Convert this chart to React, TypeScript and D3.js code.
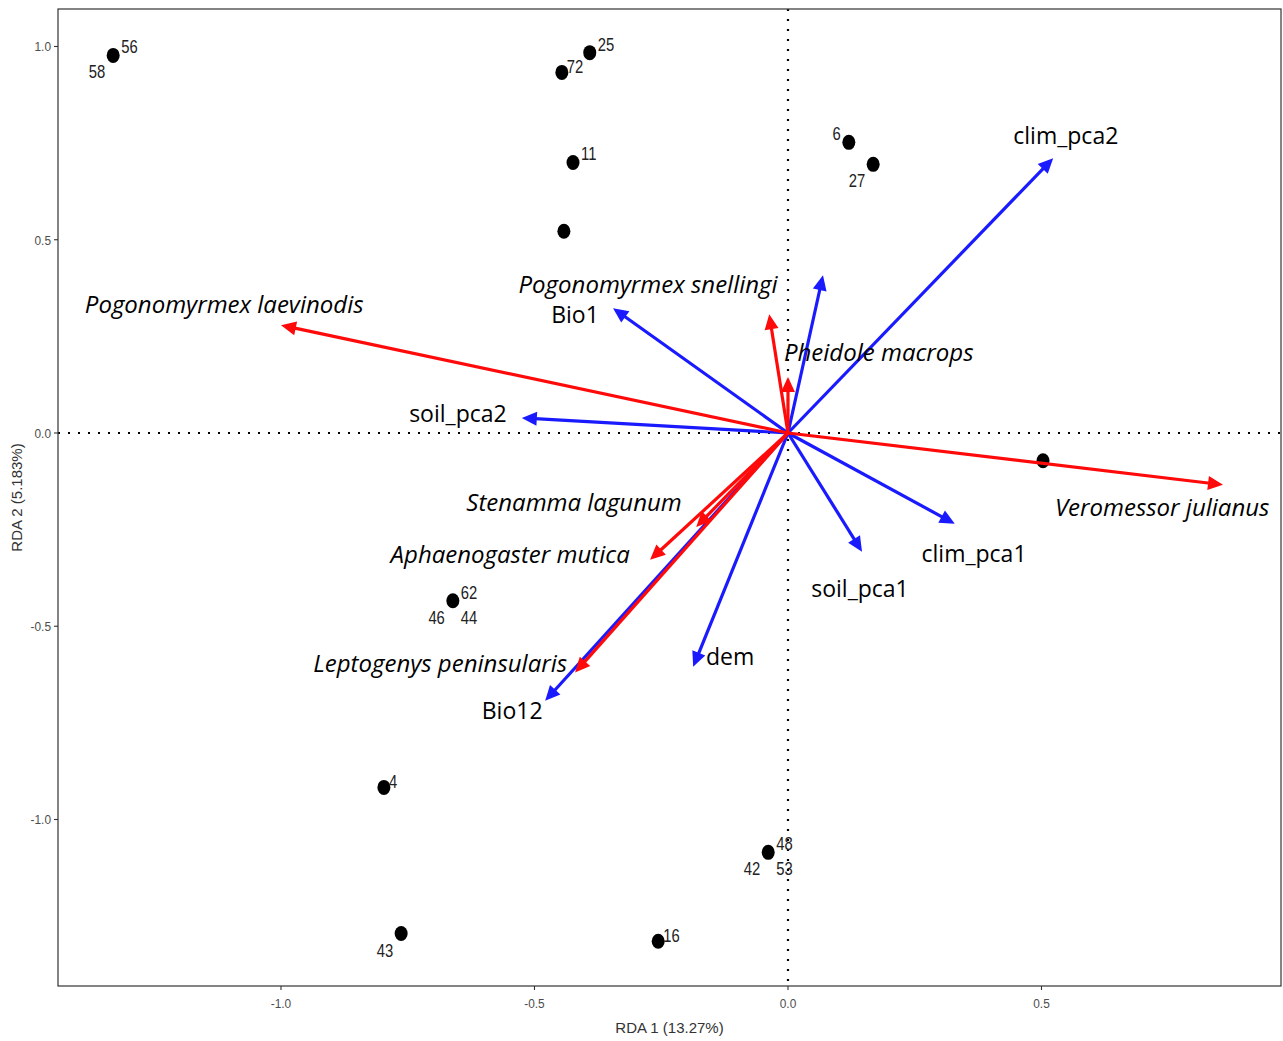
import React from "react";
import * as d3 from "d3";

// Site scores (RDA1, RDA2)
const siteX = [-1.331, -0.446, -0.391, -0.424, -0.442, 0.120, 0.168, 0.503, -0.661, -0.797, -0.039, -0.763, -0.256];
const siteY = [0.977, 0.933, 0.984, 0.700, 0.522, 0.752, 0.695, -0.072, -0.434, -0.917, -1.085, -1.295, -1.315];

// Site labels: [site index, text, placement]
const siteLabelIdx = [0, 0, 1, 2, 3, 5, 6, 8, 8, 8, 9, 10, 10, 10, 11, 12];
const siteLabelText = ["56", "58", "72", "25", "11", "6", "27", "62", "46", "44", "4", "48", "42", "53", "43", "16"];
const siteLabelPlace = ["ur", "ll", "r", "ur", "ur", "ul", "ll", "ur", "ll", "lr", "r", "ur", "ll", "lr", "ll", "r"];

// Environmental vectors (blue)
const envNames = ["clim_pca2", "Bio1", "soil_pca2", "clim_pca1", "soil_pca1", "dem", "Bio12", ""];
const envX = [0.523, -0.345, -0.525, 0.329, 0.146, -0.187, -0.479, 0.069];
const envY = [0.711, 0.323, 0.039, -0.235, -0.307, -0.605, -0.693, 0.408];
const envLabelX = [0.548, -0.420, -0.651, 0.367, 0.142, -0.114, -0.544, 0];
const envLabelY = [0.770, 0.307, 0.052, -0.310, -0.401, -0.576, -0.716, 0];

// Species vectors (red)
const sppNames = [
  "Pogonomyrmex laevinodis",
  "Veromessor julianus",
  "Pogonomyrmex snellingi",
  "Pheidole macrops",
  "Stenamma lagunum",
  "Aphaenogaster mutica",
  "Leptogenys peninsularis",
];
const sppX = [-1.0, 0.858, -0.037, 0.0, -0.181, -0.272, -0.420];
const sppY = [0.279, -0.134, 0.307, 0.145, -0.243, -0.328, -0.620];
const sppLabelX = [-1.112, 0.738, -0.276, 0.179, -0.422, -0.548, -0.686];
const sppLabelY = [0.336, -0.189, 0.388, 0.212, -0.176, -0.313, -0.594];

const xTicks = [-1.0, -0.5, 0.0, 0.5];
const yTicks = [-1.0, -0.5, 0.0, 0.5, 1.0];

const W = 1283;
const H = 1041;
const left = 58, right = 1281, top = 9, bottom = 986;

const x = d3.scaleLinear().domain([-1.4398, 0.9724]).range([left, right]);
const y = d3.scaleLinear().domain([-1.4308, 1.097]).range([bottom, top]);

const BLUE = "#1a1aff";
const RED = "#ff0a0a";
const ARIAL = "'Liberation Sans', Arial, sans-serif";

function Arrow({ x2, y2, color }: { x2: number; y2: number; color: string }) {
  const x0 = x(0), y0 = y(0);
  const px = x(x2), py = y(y2);
  const dx = px - x0, dy = py - y0;
  const len = Math.sqrt(dx * dx + dy * dy);
  const ux = dx / len, uy = dy / len;
  const hl = 15, hw = 7;
  const bx = px - ux * hl, by = py - uy * hl;
  const nx = -uy, ny = ux;
  const pts = [
    [px, py],
    [bx + nx * hw, by + ny * hw],
    [bx - nx * hw, by - ny * hw],
  ];
  return (
    <g>
      <line x1={x0} y1={y0} x2={bx + ux * 2} y2={by + uy * 2} stroke={color} strokeWidth={3.2} />
      <polygon points={pts.map((p) => p.join(",")).join(" ")} fill={color} />
    </g>
  );
}

function labelOffset(place: string) {
  const right = place.includes("r");
  const dx = right ? (place === "r" ? 5 : 8) : -8;
  let dy = 23;
  if (place.startsWith("u")) dy = -2;
  if (place === "r") dy = 1;
  return { dx, dy, anchor: right ? "start" : "end" };
}

const fmt = (t: number) => t.toFixed(1);

export default function App() {
  const labelFont = "'Open Sans', Lato, sans-serif";
  return (
    <div style={{ position: "absolute", left: 0, top: 0 }}>
      <svg width={W} height={H} style={{ display: "block", background: "#fff" }}>
        <rect x={0} y={0} width={W} height={H} fill="#fff" />
        {/* zero lines */}
        <line x1={x(0)} x2={x(0)} y1={top} y2={bottom} stroke="#000" strokeWidth={2.2} strokeDasharray="2 8" />
        <line x1={left} x2={right} y1={y(0)} y2={y(0)} stroke="#000" strokeWidth={2.2} strokeDasharray="2 8" />

        {/* points */}
        {siteX.map((sx, i) => (
          <ellipse key={"p" + i} cx={x(sx)} cy={y(siteY[i])} rx={6.5} ry={7.5} fill="#000" />
        ))}
        {siteLabelIdx.map((si, i) => {
          const o = labelOffset(siteLabelPlace[i]);
          const tx = x(siteX[si]) + o.dx;
          return (
            <text
              key={"sl" + i}
              x={tx}
              y={y(siteY[si]) + o.dy}
              textAnchor={o.anchor}
              fontFamily={ARIAL}
              fontSize={18.5}
              fill="#222"
              transform={`translate(${tx},0) scale(0.8,1) translate(${-tx},0)`}
            >
              {siteLabelText[i]}
            </text>
          );
        })}

        {/* env arrows */}
        {envX.map((ex, i) => (
          <Arrow key={"e" + i} x2={ex} y2={envY[i]} color={BLUE} />
        ))}
        {/* species arrows */}
        {sppX.map((sx, i) => (
          <Arrow key={"s" + i} x2={sx} y2={sppY[i]} color={RED} />
        ))}

        {envNames.map((n, i) =>
          n ? (
            <text
              key={"el" + i}
              x={x(envLabelX[i])}
              y={y(envLabelY[i])}
              textAnchor="middle"
              dominantBaseline="central"
              fontFamily={labelFont}
              fontSize={23}
              fill="#000"
            >
              {n}
            </text>
          ) : null
        )}
        {sppNames.map((n, i) => (
          <text
            key={"sp" + i}
            x={x(sppLabelX[i])}
            y={y(sppLabelY[i])}
            textAnchor="middle"
            dominantBaseline="central"
            fontFamily={labelFont}
            fontStyle="italic"
            fontSize={24}
            fill="#000"
          >
            {n}
          </text>
        ))}

        {/* panel border */}
        <rect x={left} y={top} width={right - left} height={bottom - top} fill="none" stroke="#333" strokeWidth={1.2} />

        {/* axes ticks */}
        {xTicks.map((t) => (
          <g key={"xt" + t}>
            <line x1={x(t)} x2={x(t)} y1={bottom} y2={bottom + 4} stroke="#333" strokeWidth={1.1} />
            <text
              x={x(t)}
              y={bottom + 22}
              textAnchor="middle"
              fontFamily={ARIAL}
              fontSize={13.5}
              fill="#4d4d4d"
              transform={`translate(${x(t)},0) scale(0.88,1) translate(${-x(t)},0)`}
            >
              {fmt(t)}
            </text>
          </g>
        ))}
        {yTicks.map((t) => (
          <g key={"yt" + t}>
            <line x1={left - 4} x2={left} y1={y(t)} y2={y(t)} stroke="#333" strokeWidth={1.1} />
            <text
              x={left - 7}
              y={y(t)}
              textAnchor="end"
              dominantBaseline="central"
              fontFamily={ARIAL}
              fontSize={13.5}
              fill="#4d4d4d"
              transform={`translate(${left - 7},0) scale(0.88,1) translate(${-(left - 7)},0)`}
            >
              {fmt(t)}
            </text>
          </g>
        ))}

        {/* axis titles */}
        <text x={(left + right) / 2} y={1033} textAnchor="middle" fontFamily={ARIAL} fontSize={15} fill="#333">
          RDA 1 (13.27%)
        </text>
        <text
          transform={`translate(22,${(top + bottom) / 2}) rotate(-90)`}
          textAnchor="middle"
          fontFamily={ARIAL}
          fontSize={15}
          fill="#333"
        >
          RDA 2 (5.183%)
        </text>
      </svg>
    </div>
  );
}
